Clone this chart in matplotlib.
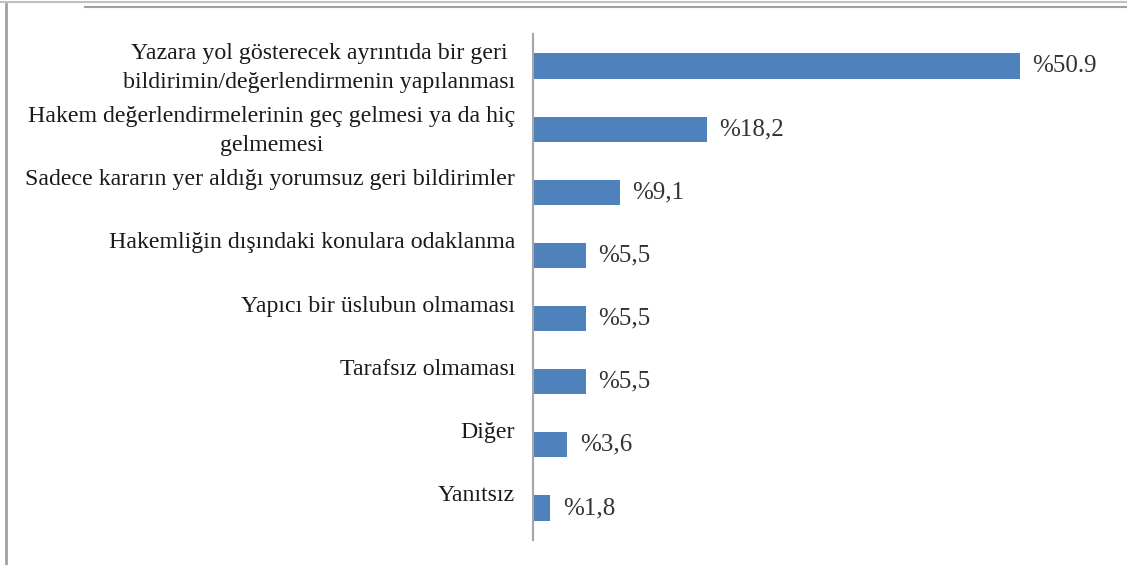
import matplotlib
matplotlib.use("Agg")
import matplotlib.pyplot as plt
from matplotlib.lines import Line2D
from matplotlib.transforms import offset_copy

# veriler
categories = [
    "Yazara yol gösterecek ayrıntıda bir geri\nbildirimin/değerlendirmenin yapılanması",
    "Hakem değerlendirmelerinin geç gelmesi ya da hiç\ngelmemesi",
    "Sadece kararın yer aldığı yorumsuz geri bildirimler",
    "Hakemliğin dışındaki konulara odaklanma",
    "Yapıcı bir üslubun olmaması",
    "Tarafsız olmaması",
    "Diğer",
    "Yanıtsız",
]
values = [50.9, 18.2, 9.1, 5.5, 5.5, 5.5, 3.6, 1.8]
value_labels = ["%50.9", "%18,2", "%9,1", "%5,5", "%5,5", "%5,5", "%3,6", "%1,8"]

plt.rcParams['font.family'] = ['Liberation Serif', 'DejaVu Serif']

fig = plt.figure(figsize=(11.27, 5.65), dpi=100)
ax = fig.add_axes([0.473, 0.045, 0.509, 0.894])

ypos = list(range(len(values)))
ax.barh(ypos, values, height=0.4, color='#4F81BD')
ax.set_ylim(len(values) - 0.5, -0.5)
ax.set_xlim(0, 60)

for s in ['top', 'right', 'bottom']:
    ax.spines[s].set_visible(False)
ax.spines['left'].set_color('#a6a6a6')
ax.spines['left'].set_linewidth(1.5)
ax.set_xticks([])
ax.set_yticks([])

# kategori etiketleri (üst hizalı, eksenin solunda)
lab_tr = offset_copy(ax.get_yaxis_transform(), fig=fig, x=-18, y=23, units='dots')
for y, c in zip(ypos, categories):
    ax.text(0, y, c, transform=lab_tr, ha='right', va='top',
            multialignment='center', fontsize=17.2, color='#1a1a1a',
            linespacing=1.5)

# değer etiketleri
for y, v, t in zip(ypos, values, value_labels):
    ax.annotate(t, (v, y), xytext=(9, 0), textcoords='offset points',
                ha='left', va='center', fontsize=18, color='#333333')

# çerçeve
fig.add_artist(Line2D([0, 1], [0.997, 0.997], color='#c0c0c0', lw=1.5,
                      transform=fig.transFigure))
fig.add_artist(Line2D([85 / 1127, 1], [1 - 7 / 565, 1 - 7 / 565], color='#a0a0a0',
                      lw=1.5, transform=fig.transFigure))
fig.add_artist(Line2D([6 / 1127, 6 / 1127], [0, 1 - 4 / 565], color='#a0a0a0',
                      lw=2, transform=fig.transFigure))

fig.savefig("out.png", dpi=100)
